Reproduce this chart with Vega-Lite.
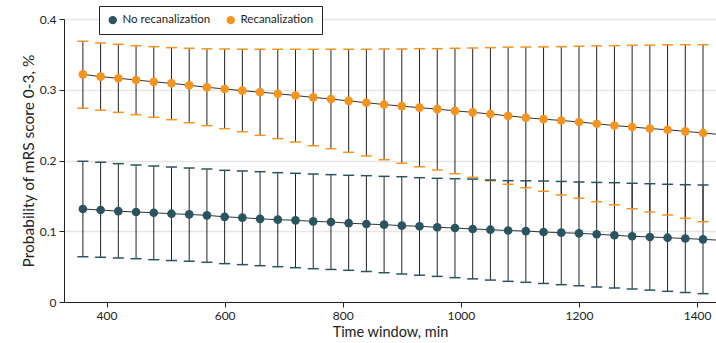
{
  "$schema": "https://vega.github.io/schema/vega-lite/v6.json",
  "width": 652,
  "height": 283,
  "autosize": {"type": "none"},
  "padding": {"left": 64, "top": 19, "right": 0, "bottom": 41},
  "config": {
    "view": {"stroke": null},
    "font": "Lato",
    "axis": {
      "labelFont": "Lato", "titleFont": "Lato",
      "labelFontSize": 12, "titleFontSize": 15.5,
      "labelColor": "#222", "titleColor": "#222",
      "titleFontWeight": "normal",
      "domainColor": "#222", "tickColor": "#222",
      "tickSize": 5, "labelPadding": 3, "titlePadding": 3
    },
    "legend": {"labelFont": "Lato", "labelFontSize": 11.5, "labelColor": "#222"}
  },
  "data": {"values": [
    {"t":360,"group":"Recanalization","p":0.3218,"lo":0.2738,"hi":0.3685},
    {"t":390,"group":"Recanalization","p":0.3185,"lo":0.2710,"hi":0.3661},
    {"t":420,"group":"Recanalization","p":0.3162,"lo":0.2681,"hi":0.3642},
    {"t":450,"group":"Recanalization","p":0.3138,"lo":0.2648,"hi":0.3623},
    {"t":480,"group":"Recanalization","p":0.3112,"lo":0.2611,"hi":0.3609},
    {"t":510,"group":"Recanalization","p":0.3091,"lo":0.2577,"hi":0.3595},
    {"t":540,"group":"Recanalization","p":0.3063,"lo":0.2534,"hi":0.3586},
    {"t":570,"group":"Recanalization","p":0.3035,"lo":0.2492,"hi":0.3578},
    {"t":600,"group":"Recanalization","p":0.3011,"lo":0.2450,"hi":0.3576},
    {"t":630,"group":"Recanalization","p":0.2987,"lo":0.2407,"hi":0.3573},
    {"t":660,"group":"Recanalization","p":0.2966,"lo":0.2356,"hi":0.3572},
    {"t":690,"group":"Recanalization","p":0.2944,"lo":0.2309,"hi":0.3572},
    {"t":720,"group":"Recanalization","p":0.2918,"lo":0.2261,"hi":0.3572},
    {"t":750,"group":"Recanalization","p":0.2892,"lo":0.2209,"hi":0.3572},
    {"t":780,"group":"Recanalization","p":0.2869,"lo":0.2167,"hi":0.3572},
    {"t":810,"group":"Recanalization","p":0.2843,"lo":0.2116,"hi":0.3572},
    {"t":840,"group":"Recanalization","p":0.2817,"lo":0.2064,"hi":0.3572},
    {"t":870,"group":"Recanalization","p":0.2791,"lo":0.2011,"hi":0.3576},
    {"t":900,"group":"Recanalization","p":0.2768,"lo":0.1960,"hi":0.3576},
    {"t":930,"group":"Recanalization","p":0.2747,"lo":0.1912,"hi":0.3581},
    {"t":960,"group":"Recanalization","p":0.2726,"lo":0.1866,"hi":0.3581},
    {"t":990,"group":"Recanalization","p":0.2702,"lo":0.1813,"hi":0.3586},
    {"t":1020,"group":"Recanalization","p":0.2681,"lo":0.1762,"hi":0.3590},
    {"t":1050,"group":"Recanalization","p":0.2657,"lo":0.1714,"hi":0.3595},
    {"t":1080,"group":"Recanalization","p":0.2631,"lo":0.1664,"hi":0.3602},
    {"t":1110,"group":"Recanalization","p":0.2605,"lo":0.1616,"hi":0.3604},
    {"t":1140,"group":"Recanalization","p":0.2584,"lo":0.1565,"hi":0.3606},
    {"t":1170,"group":"Recanalization","p":0.2566,"lo":0.1512,"hi":0.3609},
    {"t":1200,"group":"Recanalization","p":0.2544,"lo":0.1466,"hi":0.3616},
    {"t":1230,"group":"Recanalization","p":0.2520,"lo":0.1418,"hi":0.3621},
    {"t":1260,"group":"Recanalization","p":0.2494,"lo":0.1373,"hi":0.3623},
    {"t":1290,"group":"Recanalization","p":0.2473,"lo":0.1319,"hi":0.3628},
    {"t":1320,"group":"Recanalization","p":0.2452,"lo":0.1272,"hi":0.3630},
    {"t":1350,"group":"Recanalization","p":0.2434,"lo":0.1230,"hi":0.3635},
    {"t":1380,"group":"Recanalization","p":0.2412,"lo":0.1183,"hi":0.3637},
    {"t":1410,"group":"Recanalization","p":0.2389,"lo":0.1135,"hi":0.3637},
    {"t":1440,"group":"Recanalization","p":0.2366},
    {"t":360,"group":"No recanalization","p":0.1314,"lo":0.0640,"hi":0.1989},
    {"t":390,"group":"No recanalization","p":0.1300,"lo":0.0632,"hi":0.1975},
    {"t":420,"group":"No recanalization","p":0.1284,"lo":0.0622,"hi":0.1955},
    {"t":450,"group":"No recanalization","p":0.1272,"lo":0.0612,"hi":0.1936},
    {"t":480,"group":"No recanalization","p":0.1262,"lo":0.0598,"hi":0.1922},
    {"t":510,"group":"No recanalization","p":0.1248,"lo":0.0586,"hi":0.1908},
    {"t":540,"group":"No recanalization","p":0.1238,"lo":0.0576,"hi":0.1894},
    {"t":570,"group":"No recanalization","p":0.1225,"lo":0.0561,"hi":0.1880},
    {"t":600,"group":"No recanalization","p":0.1204,"lo":0.0542,"hi":0.1861},
    {"t":630,"group":"No recanalization","p":0.1192,"lo":0.0528,"hi":0.1852},
    {"t":660,"group":"No recanalization","p":0.1175,"lo":0.0513,"hi":0.1842},
    {"t":690,"group":"No recanalization","p":0.1164,"lo":0.0499,"hi":0.1828},
    {"t":720,"group":"No recanalization","p":0.1154,"lo":0.0485,"hi":0.1819},
    {"t":750,"group":"No recanalization","p":0.1140,"lo":0.0471,"hi":0.1809},
    {"t":780,"group":"No recanalization","p":0.1131,"lo":0.0460,"hi":0.1800},
    {"t":810,"group":"No recanalization","p":0.1114,"lo":0.0448,"hi":0.1791},
    {"t":840,"group":"No recanalization","p":0.1102,"lo":0.0431,"hi":0.1786},
    {"t":870,"group":"No recanalization","p":0.1093,"lo":0.0414,"hi":0.1776},
    {"t":900,"group":"No recanalization","p":0.1079,"lo":0.0396,"hi":0.1771},
    {"t":930,"group":"No recanalization","p":0.1070,"lo":0.0379,"hi":0.1757},
    {"t":960,"group":"No recanalization","p":0.1056,"lo":0.0362,"hi":0.1748},
    {"t":990,"group":"No recanalization","p":0.1046,"lo":0.0344,"hi":0.1743},
    {"t":1020,"group":"No recanalization","p":0.1032,"lo":0.0327,"hi":0.1737},
    {"t":1050,"group":"No recanalization","p":0.1022,"lo":0.0310,"hi":0.1724},
    {"t":1080,"group":"No recanalization","p":0.1010,"lo":0.0292,"hi":0.1715},
    {"t":1110,"group":"No recanalization","p":0.1002,"lo":0.0278,"hi":0.1713},
    {"t":1140,"group":"No recanalization","p":0.0989,"lo":0.0262,"hi":0.1710},
    {"t":1170,"group":"No recanalization","p":0.0980,"lo":0.0245,"hi":0.1704},
    {"t":1200,"group":"No recanalization","p":0.0971,"lo":0.0228,"hi":0.1696},
    {"t":1230,"group":"No recanalization","p":0.0957,"lo":0.0212,"hi":0.1690},
    {"t":1260,"group":"No recanalization","p":0.0943,"lo":0.0198,"hi":0.1686},
    {"t":1290,"group":"No recanalization","p":0.0929,"lo":0.0184,"hi":0.1678},
    {"t":1320,"group":"No recanalization","p":0.0919,"lo":0.0168,"hi":0.1672},
    {"t":1350,"group":"No recanalization","p":0.0909,"lo":0.0151,"hi":0.1664},
    {"t":1380,"group":"No recanalization","p":0.0897,"lo":0.0134,"hi":0.1658},
    {"t":1410,"group":"No recanalization","p":0.0886,"lo":0.0118,"hi":0.1654},
    {"t":1440,"group":"No recanalization","p":0.0872}
  ]},
  "encoding": {
    "x": {"field": "t", "type": "quantitative",
      "scale": {"domain": [328, 1432], "nice": false, "zero": false},
      "axis": {"title": "Time window, min", "titleFontSize": 14.5, "titlePadding": 4, "values": [400, 600, 800, 1000, 1200, 1400], "grid": false, "format": "d"}}
  },
  "layer": [
    {
      "transform": [{"filter": "isValid(datum.lo)"}],
      "mark": {"type": "rule", "color": "#222", "strokeWidth": 1},
      "encoding": {
        "y": {"field": "lo", "type": "quantitative",
          "scale": {"domain": [0, 0.4], "nice": false},
          "axis": {"title": "Probability of mRS score 0-3, %", "values": [0, 0.1, 0.2, 0.3, 0.4], "format": ".1~f",
            "grid": true, "gridColor": "#e6e6e6", "gridWidth": 1.5}},
        "y2": {"field": "hi"}
      }
    },
    {
      "transform": [{"filter": "isValid(datum.lo)"}],
      "mark": {"type": "tick", "orient": "horizontal", "size": 11, "thickness": 1.5, "opacity": 1},
      "encoding": {
        "y": {"field": "lo", "type": "quantitative"},
        "color": {"field": "group", "type": "nominal"}
      }
    },
    {
      "transform": [{"filter": "isValid(datum.hi)"}],
      "mark": {"type": "tick", "orient": "horizontal", "size": 11, "thickness": 1.5, "opacity": 1},
      "encoding": {
        "y": {"field": "hi", "type": "quantitative"},
        "color": {"field": "group", "type": "nominal"}
      }
    },
    {
      "mark": {"type": "line", "color": "#333", "strokeWidth": 1, "clip": true},
      "encoding": {
        "y": {"field": "p", "type": "quantitative"},
        "detail": {"field": "group"}
      }
    },
    {
      "transform": [{"filter": "isValid(datum.lo)"}],
      "mark": {"type": "point", "filled": true, "size": 75, "opacity": 1},
      "encoding": {
        "y": {"field": "p", "type": "quantitative"},
        "color": {"field": "group", "type": "nominal",
          "scale": {"domain": ["No recanalization", "Recanalization"], "range": ["#2B5461", "#F7941D"]},
          "legend": {"title": null, "orient": "none", "direction": "horizontal", "legendX": 35, "legendY": -13,
            "symbolType": "circle", "symbolSize": 70, "symbolOpacity": 1, "symbolStrokeWidth": 0,
            "padding": 8, "strokeColor": "#222", "fillColor": "white",
            "labelOffset": 4, "columnPadding": 14}}
      }
    }
  ],
  "resolve": {"scale": {"color": "shared"}}
}
